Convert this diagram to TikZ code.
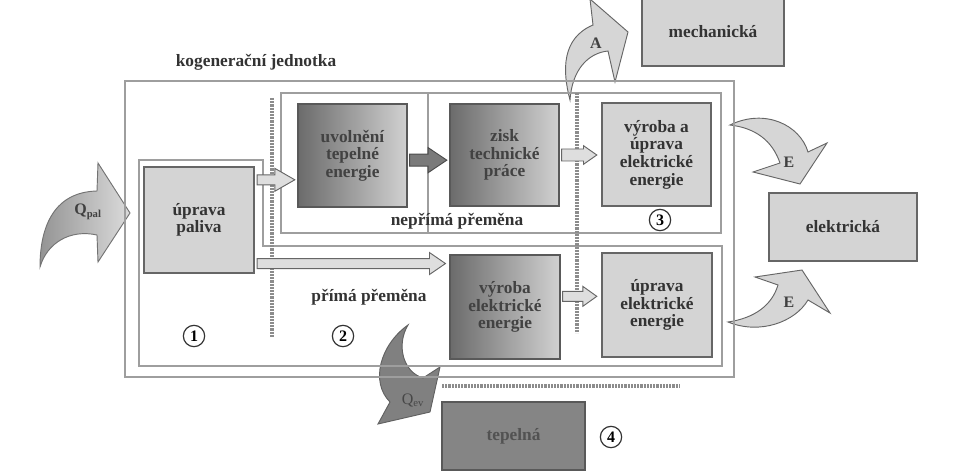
\documentclass[tikz,border=0pt]{standalone}
\usepackage{fontspec}
\setmainfont{Liberation Serif}
\usetikzlibrary{calc}
\newcommand\barrow[6]{\path[#1] let \p1=(#2), \p2=(#3) in (\x1,\y1+#4) -- (\x2-#6,\y1+#4) -- (\x2-#6,\y1+#5) -- (\x2,\y1) -- (\x2-#6,\y1-#5) -- (\x2-#6,\y1-#4) -- (\x1,\y1-#4) -- cycle;}
\tikzset{
  sz/.style 2 args={minimum width=#1*0.75pt, minimum height=#2*0.75pt},
  txt/.style={font=\fontsize{13pt}{13.2pt}\selectfont\bfseries, text=black!80, align=center, inner sep=0pt},
  frame/.style={draw=black!38, line width=1.2pt},
  lbox/.style={txt, draw=black!60, fill=black!17, line width=0.8pt},
  gbox/.style={txt, draw=black!65, left color=black!58, right color=black!18, line width=0.8pt, text=black!74},
  dbox/.style={txt, draw=black!65, fill=black!48, line width=0.8pt, text=black!68},
  num/.style={circle, draw=black!80, line width=0.9pt, inner sep=0pt, minimum size=16pt, font=\fontsize{12pt}{12pt}\selectfont\bfseries},
  dotline/.style={draw=black!45, line width=2.4pt, dash pattern=on 1.6pt off 0.8pt},
  lightarr/.style={draw=black!60, fill=black!13, line width=0.7pt},
  darkarr/.style={draw=black!70, fill=black!52, line width=0.7pt},
  curvlight/.style={draw=black!60, fill=black!16, line width=0.7pt},
  lab/.style={font=\fontsize{12pt}{12pt}\selectfont\bfseries, text=black!75, inner sep=0pt},
}
\begin{document}
\begin{tikzpicture}[x=0.75pt,y=-0.75pt]
\useasboundingbox (0,0) rectangle (974,474);
% curved arrows (under frames)
\path[draw=black!55, left color=black!42, right color=black!14, line width=0.7pt]
  (40,267) .. controls (40,225) and (55,192) .. (97,191) -- (98,163) -- (130,213) -- (98,262) -- (97,235) .. controls (70,229) and (47,243) .. (40,267) -- cycle;
\node[lab] (qpal) at (88,212) {Q\textsubscript{pal}};
\path[curvlight]
  (570,100) .. controls (562,70) and (562,38) .. (593,25) -- (590,-1) -- (628,32) -- (615,82) -- (608,51) .. controls (588,53) and (572,70) .. (570,100) -- cycle;
\node[lab] (alab) at (596,43) {A};
\path[curvlight]
  (730,125) .. controls (765,108) and (800,125) .. (808,152) -- (827,143) -- (800,184) -- (753,172) -- (780,163) .. controls (772,140) and (755,128) .. (730,125) -- cycle;
\node[lab] (e1lab) at (789,162) {E};
\path[curvlight]
  (728,322) .. controls (760,335) and (795,322) .. (808,300) -- (830,313) -- (802,270) -- (755,277) -- (778,285) .. controls (772,305) and (755,318) .. (728,322) -- cycle;
\node[lab] (e2lab) at (789,302) {E};
\path[draw=black!62, fill=black!50, line width=0.7pt]
  (408,325) .. controls (380,345) and (370,382) .. (390,402) -- (378,424) -- (430,412) -- (440,367) -- (423,378) .. controls (403,372) and (396,345) .. (408,325) -- cycle;
\node[font=\fontsize{12pt}{12pt}\selectfont, text=black!72, inner sep=0pt] (qev) at (413,400) {Q\textsubscript{ev}};
% frames
\node[frame, sz={609}{296}] (kj) at (429.5,229) {};
\node[txt] (kjlab) at (256,62) {kogenerační jednotka};
\node[frame, sz={440}{140}] (nep) at (501,163) {};
\draw[frame] ($(nep.north west)+(148,0)$) -- ($(nep.south west)+(148,0)$);
\draw[frame] (139,160) -- (263,160) -- (263,246) -- (722,246) -- (722,366) -- (139,366) -- cycle;
% dotted separators
\draw[dotline] (272,98) -- (272,337);
\draw[dotline] (577,93) -- (577,333);
\draw[dotline] (442,386) -- (679,386);
% boxes
\node[lbox, sz={110}{106}] (paliva) at (199,220) {úprava\\paliva};
\node[gbox, sz={109}{103}] (uvolneni) at (352.5,155.5) {uvolnění\\tepelné\\energie};
\node[gbox, sz={109}{102}] (zisk) at (504.5,155) {zisk\\technické\\práce};
\node[lbox, sz={109}{103}] (vyrobaA) at (656.5,154.5) {výroba a\\úprava\\elektrické\\energie};
\node[gbox, sz={110}{104}] (vyrobaE) at (505,307) {výroba\\elektrické\\energie};
\node[lbox, sz={110}{104}] (upravaE) at (657,305) {úprava\\elektrické\\energie};
\node[lbox, sz={142}{68}] (mech) at (713,32) {mechanická};
\node[lbox, sz={148}{68}] (elek) at (843,227) {elektrická};
\node[dbox, sz={143}{68}] (tep) at (513.5,436) {tepelná};
% texts
\node[txt] (nepl) at (457,221) {nepřímá přeměna};
\node[txt] (priml) at (369,297) {přímá přeměna};
\node[num] (n1) at (194,336) {1};
\node[num] (n2) at (343,336) {2};
\node[num] (n3) at (660,220) {3};
\node[num] (n4) at (611,437) {4};
% block arrows
\barrow{lightarr}{[xshift=2pt,yshift=-10pt]paliva.north east}{[xshift=-2pt]uvolneni.west}{3.75pt}{8.6pt}{15pt}
\barrow{darkarr}{[xshift=1.5pt,yshift=-3.5pt]uvolneni.east}{[xshift=-2pt]zisk.west}{4.5pt}{9.4pt}{14pt}
\barrow{lightarr}{[xshift=1.5pt]zisk.east}{[xshift=-3.5pt]vyrobaA.west}{4.5pt}{7pt}{10pt}
\barrow{lightarr}{[xshift=2pt,yshift=7.5pt]paliva.south east}{[xshift=-3pt]vyrobaE.west}{3.75pt}{8.25pt}{12pt}
\barrow{lightarr}{[xshift=1.5pt,yshift=8pt]vyrobaE.east}{[xshift=-3.5pt]upravaE.west}{3.75pt}{7.5pt}{10.5pt}
\end{tikzpicture}
\end{document}
